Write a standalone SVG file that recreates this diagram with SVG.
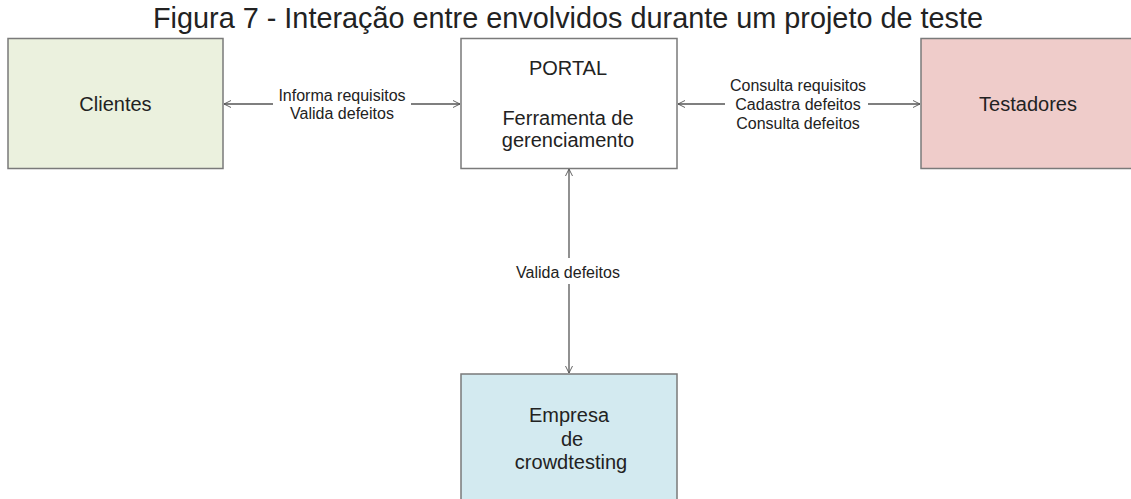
<svg xmlns="http://www.w3.org/2000/svg" width="1131" height="499" viewBox="0 0 1131 499">
<style>
.box{stroke:#7a7a7a;stroke-width:1.5}
.t{font-family:"Liberation Sans",Arial,sans-serif;fill:#222;text-anchor:middle}
.n{font-size:20px}
.l{font-size:16px}
.c{stroke:#555;stroke-width:1.3;fill:none}
</style>
<defs>
<marker id="ah" viewBox="0 0 10 10" refX="10" refY="5" markerWidth="7" markerHeight="10" markerUnits="userSpaceOnUse" orient="auto-start-reverse">
<path d="M0,0 L10,5 L0,10" fill="none" stroke="#555" stroke-width="1.3"/>
</marker>
</defs>
<rect width="1131" height="499" fill="#fff"/>
<text class="t" x="568" y="28" font-size="29" textLength="830" lengthAdjust="spacingAndGlyphs">Figura 7 - Interação entre envolvidos durante um projeto de teste</text>
<g id="connectors">
<line class="c" x1="224" y1="104" x2="273" y2="104" marker-start="url(#ah)"/>
<line class="c" x1="411" y1="104" x2="460" y2="104" marker-end="url(#ah)"/>
<line class="c" x1="678" y1="104" x2="725" y2="104" marker-start="url(#ah)"/>
<line class="c" x1="868" y1="104" x2="920" y2="104" marker-end="url(#ah)"/>
<line class="c" x1="569" y1="169" x2="569" y2="258" marker-start="url(#ah)"/>
<line class="c" x1="569" y1="284" x2="569" y2="373" marker-end="url(#ah)"/>
<text class="t l" x="342" y="101">Informa requisitos</text>
<text class="t l" x="342" y="119">Valida defeitos</text>
<text class="t l" x="798" y="91">Consulta requisitos</text>
<text class="t l" x="798" y="110">Cadastra defeitos</text>
<text class="t l" x="798" y="129">Consulta defeitos</text>
<text class="t l" x="568" y="278">Valida defeitos</text>
</g>
<g id="clientes">
<rect class="box" x="8" y="38.5" width="215" height="130" fill="#EBF1DE"/>
<text class="t n" x="115.5" y="111">Clientes</text>
</g>
<g id="portal">
<rect class="box" x="461" y="38.5" width="216" height="130" fill="#fff"/>
<text class="t n" x="568" y="75">PORTAL</text>
<text class="t n" x="568" y="125">Ferramenta de</text>
<text class="t n" x="568" y="147">gerenciamento</text>
</g>
<g id="testadores">
<rect class="box" x="921" y="38.5" width="220" height="130" fill="#EFCCCA"/>
<text class="t n" x="1028" y="111">Testadores</text>
</g>
<g id="empresa">
<rect class="box" x="461" y="374" width="216" height="140" fill="#D3EAF0"/>
<text class="t n" x="569" y="422">Empresa</text>
<text class="t n" x="572" y="446">de</text>
<text class="t n" x="571" y="469">crowdtesting</text>
</g>
</svg>
